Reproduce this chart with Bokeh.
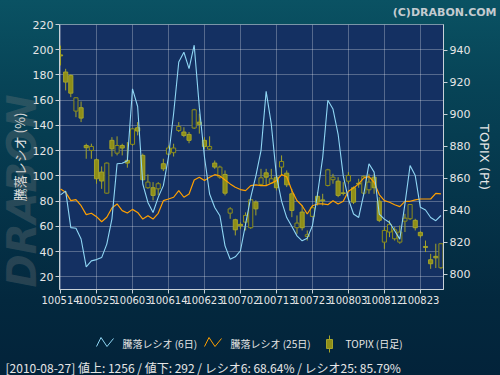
import math
from bokeh.plotting import figure
from bokeh.models import Range1d, LinearAxis, FixedTicker, Title
from bokeh.layouts import column
from bokeh.embed import file_html
from bokeh.resources import INLINE
from bokeh.core.properties import value

# ---------------- data ----------------
tick_idx = [0, 7, 14, 21, 28, 35, 42, 49, 56, 63, 70]
tick_labels = ["100514", "100525", "100603", "100614", "100623", "100702",
               "100713", "100723", "100803", "100812", "100823"]

ratio6 = [85, 88, 59, 58.5, 50, 28, 32.7, 33.7, 35.3, 46,
          66, 109.6, 110, 112, 169, 155, 93.6, 79, 71, 83,
          92.3, 115, 149.5, 190.3, 198, 185, 203.6, 154.5, 115, 85.7,
          75, 68.5, 44.6, 34, 35.9, 40.7, 61.8, 83, 100, 120,
          167, 141, 100, 80, 67, 60, 52.5, 48.6, 50.7, 60.5,
          85.7, 114.7, 160, 153, 133, 100, 81.7, 69.8, 67.1, 85.7,
          109.6, 103, 69.8, 65.8, 63.1, 56.5, 49.9, 77.8, 108.3, 100.3,
          75.1, 73, 67.1, 64.5, 68.64]

ratio25 = [89.6, 87, 80.4, 81.2, 76.4, 69.3, 70.4, 67.7, 63.7, 67.2,
           74.6, 77.8, 72.5, 70.6, 73.5, 71.1, 65.8, 68.5, 65.8, 70.4,
           80.4, 81.7, 83.1, 88.4, 83.1, 85.7, 96.8, 99, 96.3, 99,
           101, 100, 96.8, 93.7, 91, 89.2, 88.4, 92.3, 92.9, 92.3,
           92.3, 94.2, 96.3, 101, 99.4, 88.4, 80.4, 76.4, 69.8, 76.4,
           77.8, 77.8, 77.2, 80.4, 77.8, 79.9, 87.8, 90.5, 93.7, 98.5,
           99.5, 95, 85.2, 80.4, 79.1, 77.2, 75.7, 79.9, 79.9, 81,
           81.7, 81.7, 81.7, 86.2, 85.79]

topix_open = [937.2, 926.5, 924.4, 902.1, 904.2, 880.6, 877.5, 871.7, 864.0, 850.8,
              883.8, 875.8, 880.6, 871.3, 881.3, 891.7, 874.4, 854.2, 854.2, 853.5,
              869.2, 875.2, 876.1, 890.0, 889.0, 887.5, 891.5, 895.2, 883.8, 878.3,
              869.6, 860.8, 862.5, 838.3, 834.2, 831.3, 832.7, 829.2, 845.2, 856.3,
              863.5, 857.1, 860.8, 867.1, 863.3, 850.4, 829.2, 839.0, 823.7, 836.3,
              848.8, 846.6, 855.6, 859.2, 858.3, 851.0, 858.3, 854.2, 857.0, 850.8,
              852.9, 860.8, 845.8, 820.2, 826.5, 822.3, 820.2, 833.3, 834.8, 833.8,
              826.3, 817.5, 809.2, 811.3, 804.2]
topix_high = [943.0, 928.5, 925.0, 910.6, 908.1, 881.7, 881.7, 872.5, 867.5, 870.0,
              885.8, 886.3, 881.7, 882.7, 891.5, 895.2, 875.5, 862.5, 857.7, 857.7,
              872.3, 880.6, 881.7, 895.2, 892.0, 889.0, 903.5, 900.4, 885.8, 886.3,
              871.2, 868.0, 865.0, 842.0, 834.8, 832.5, 838.8, 847.0, 846.3, 866.0,
              866.0, 866.0, 862.9, 874.4, 865.0, 853.5, 836.9, 843.1, 827.5, 843.1,
              851.5, 850.4, 866.0, 862.9, 860.8, 857.7, 864.0, 855.0, 859.8, 861.9,
              862.9, 862.9, 848.3, 829.6, 833.8, 829.6, 830.6, 837.9, 844.0, 834.8,
              827.0, 821.2, 812.9, 819.2, 819.5]
topix_low = [930.6, 915.0, 910.8, 898.3, 895.2, 872.3, 872.3, 856.7, 853.5, 850.5,
             873.7, 874.4, 874.4, 866.7, 880.5, 886.9, 858.5, 853.5, 846.3, 849.4,
             864.6, 874.4, 873.7, 889.0, 885.8, 882.0, 891.0, 888.0, 878.5, 877.8,
             866.0, 859.8, 849.4, 834.8, 824.4, 828.5, 827.5, 828.5, 836.9, 855.6,
             855.6, 856.7, 852.5, 861.9, 854.6, 835.8, 825.4, 827.5, 821.2, 835.8,
             843.1, 843.1, 855.0, 856.7, 848.3, 849.4, 856.7, 844.0, 854.2, 850.0,
             850.4, 850.4, 832.7, 816.0, 823.3, 821.2, 819.2, 826.5, 834.0, 827.5,
             823.0, 814.0, 803.5, 804.0, 803.5]
topix_close = [936.6, 920.2, 913.3, 910.4, 897.7, 879.2, 880.0, 859.8, 858.4, 869.6,
               878.5, 880.6, 879.0, 869.6, 891.0, 889.6, 859.2, 857.7, 849.4, 856.7,
               866.0, 879.0, 879.0, 892.5, 886.9, 883.8, 902.9, 893.8, 880.0, 880.0,
               867.1, 867.1, 850.8, 841.0, 827.9, 830.4, 836.9, 846.7, 841.0, 860.4,
               860.8, 859.8, 854.2, 870.6, 856.0, 840.0, 832.1, 829.2, 824.8, 841.7,
               845.2, 846.0, 865.4, 860.8, 849.4, 850.6, 861.9, 845.2, 856.5, 861.3,
               857.7, 854.2, 833.8, 827.5, 831.3, 827.9, 826.5, 835.2, 843.7, 829.2,
               824.2, 816.9, 806.7, 810.4, 819.2]

left_ticks = [20, 40, 60, 80, 100, 120, 140, 160, 180, 200, 220]
right_ticks = [800, 820, 840, 860, 880, 900, 920, 940]

legend_labels = ["騰落レシオ (6日)", "騰落レシオ (25日)", "TOPIX (日足)"]
footer_text = "[2010-08-27]  値上: 1256 / 値下: 292 / レシオ6: 68.64% / レシオ25: 85.79%"

# ---------------- styles ----------------
FRAME_BG = "#143062"
BLUE = "#8fd6f4"
ORANGE = "#ffa000"
CANDLE_FILL = "#8e8e18"
CANDLE_LINE = "#a4a42a"
TXT = "#e6e6e6"
AX = "#c8d0d8"
JP = "Noto Sans CJK JP"

idx = list(range(len(ratio6)))

p = figure(width=500, height=330, x_range=Range1d(-0.2, 74.5), y_range=Range1d(10, 220),
           output_backend="svg", toolbar_location=None,
           min_border_left=59, min_border_right=57, min_border_top=24, min_border_bottom=41)
p.border_fill_color = None
p.background_fill_color = FRAME_BG
p.outline_line_color = "#ffffff"
p.outline_line_alpha = 0.45
p.extra_y_ranges = {"topix": Range1d(790.6, 956.2)}

# copyright as the title, pushed to the right edge of the canvas
p.title.text = "(C)DRABON.COM"
p.title.align = "right"
p.title.offset = -53
p.title.vertical_align = "top"
p.title.standoff = 8
p.title.text_font = "DejaVu Sans"
p.title.text_font_size = "11px"
p.title.text_font_style = "bold"
p.title.text_color = "#c4cbd0"

# candles
up = [i for i in idx if topix_close[i] >= topix_open[i]]
dn = [i for i in idx if topix_close[i] < topix_open[i]]
p.segment(x0=idx, y0=topix_high, x1=idx, y1=topix_low, y_range_name="topix",
          line_color=CANDLE_LINE, line_width=1)
p.vbar(x=dn, top=[topix_open[i] for i in dn], bottom=[topix_close[i] for i in dn],
       width=0.8, y_range_name="topix", fill_color=CANDLE_FILL, line_color=CANDLE_LINE, line_width=1)
p.vbar(x=up, top=[topix_close[i] for i in up], bottom=[topix_open[i] for i in up],
       width=0.8, y_range_name="topix", fill_color=FRAME_BG, line_color=CANDLE_FILL, line_width=1)

# ratio lines
p.line(idx, ratio25, line_color=ORANGE, line_width=1.2)
p.line(idx, ratio6, line_color=BLUE, line_width=1.1)

# axes
def style_axis(ax, size="11px"):
    ax.axis_line_color = AX
    ax.major_tick_line_color = AX
    ax.minor_tick_line_color = None
    ax.major_tick_out = 4
    ax.major_tick_in = 0
    ax.major_label_text_color = TXT
    ax.major_label_text_font = "DejaVu Sans"
    ax.major_label_text_font_size = size
    ax.axis_label_text_color = TXT
    ax.axis_label_text_font_style = "normal"
    ax.axis_label_text_font_size = "13px"

yax = p.yaxis[0]
yax.ticker = FixedTicker(ticks=left_ticks)
yax.axis_label = "騰落レシオ (%)"
yax.axis_label_text_font = JP
style_axis(yax)
yax.major_label_standoff = 2
yax.axis_label_standoff = 1

rax = LinearAxis(y_range_name="topix", ticker=FixedTicker(ticks=right_ticks), axis_label="TOPIX (Pt)")
style_axis(rax)
rax.axis_label_text_font = "DejaVu Sans"
rax.major_label_standoff = 2
rax.axis_label_standoff = 4
p.add_layout(rax, "right")

xax = p.xaxis[0]
xax.ticker = FixedTicker(ticks=tick_idx)
style_axis(xax, "10px")
xax.major_label_standoff = 2
xax.major_label_overrides = {t: lab for t, lab in zip(tick_idx, tick_labels)}

p.xgrid.ticker = FixedTicker(ticks=tick_idx)
p.ygrid.ticker = FixedTicker(ticks=left_ticks)
for g in (p.xgrid[0], p.ygrid[0]):
    g.grid_line_color = "#ffffff"
    g.grid_line_alpha = 0.28

# faint watermark in the left margin (light grey at low alpha so labels stay bright)
wm = Title(text="DRABON", align="left", offset=2, vertical_align="bottom", standoff=-76,
           text_font="DejaVu Sans", text_font_size="40px", text_font_style="bold italic",
           text_color="#918a87", text_alpha=0.25)
p.add_layout(wm, "left")

# ---------------- legend / footer strip ----------------
# its frame is aligned with the chart's frame, so x uses canvas pixels 59..443
leg = figure(width=500, height=45, x_range=Range1d(59, 443), y_range=Range1d(26, 0),
             output_backend="svg", toolbar_location=None,
             x_axis_location=None, y_axis_location=None, min_border=0)
leg.border_fill_color = None
leg.background_fill_color = None
leg.outline_line_color = None
leg.xgrid.visible = False
leg.ygrid.visible = False

leg.line([96, 100.5, 106.5, 113], [16, 7, 16, 8], line_color=BLUE, line_width=1)
leg.line([204, 208.5, 214.5, 221], [16, 7, 16, 8], line_color=ORANGE, line_width=1)
leg.segment(x0=[329], y0=[5], x1=[329], y1=[22], line_color=CANDLE_LINE, line_width=1)
leg.quad(left=[326], right=[332], top=[9], bottom=[18], fill_color=CANDLE_FILL,
         line_color=CANDLE_LINE)
leg.text(x=[122, 230, 345], y=[12.5, 12.5, 12.5], text=legend_labels,
         text_font=value(JP), text_font_size="10px", text_baseline="middle", text_color=TXT)

leg.add_layout(Title(text=footer_text, align="left", offset=-54, standoff=0,
                     text_font=JP, text_font_size="12px", text_font_style="normal",
                     text_color=TXT), "below")

layout = column(p, leg, spacing=0, styles={
    "background": "linear-gradient(180deg, #0a5263 0%, #074457 22%, #05364b 50%, #03283e 80%, #03233a 100%)"})

open("out.html", "w").write(file_html(layout, INLINE))
